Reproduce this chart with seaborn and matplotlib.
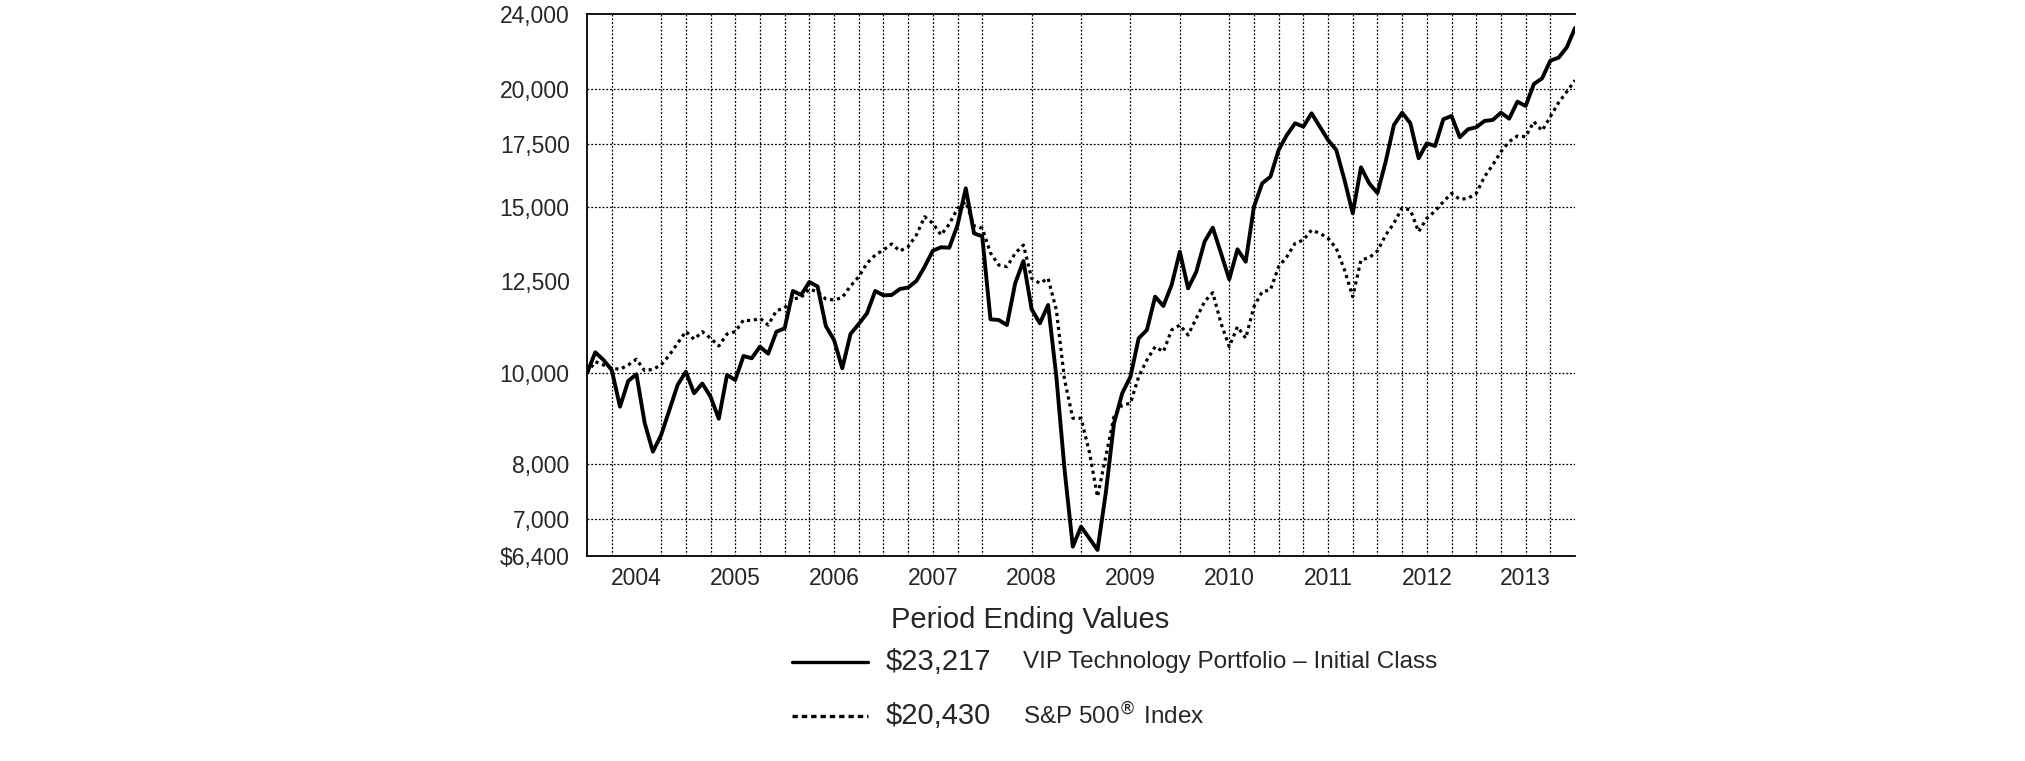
import numpy as np
import pandas as pd
import seaborn as sns
import matplotlib.pyplot as plt
from matplotlib.lines import Line2D
from matplotlib.ticker import FixedLocator, FixedFormatter, NullLocator

# monthly values of a $10,000 investment, Dec 2003 .. Dec 2013 (121 month ends)
months = np.arange(121)
vip = [10000, 10516, 10320, 10070, 9208, 9804, 9966, 8849, 8250, 8593, 9134, 9709,
       10029, 9514, 9744, 9435, 8940, 9949, 9828, 10421, 10363, 10661, 10480, 11058,
       11150, 12214, 12095, 12485, 12348, 11213, 10836, 10113, 10997, 11268, 11566, 12214,
       12085, 12095, 12273, 12318, 12516, 12960, 13476, 13589, 13575, 14349, 15693, 14060,
       13957, 11398, 11378, 11240, 12445, 13141, 11680, 11287, 11803, 9908, 7890, 6542,
       6870, 6678, 6490, 7454, 8842, 9514, 9908, 10882, 11104, 12045, 11774, 12394,
       13443, 12294, 12803, 13776, 14255, 13391, 12567, 13522, 13119, 15004, 15886, 16144,
       17232, 17876, 18394, 18242, 18848, 18242, 17659, 17232, 16014, 14764, 16518, 15886,
       15514, 16748, 18317, 18876, 18394, 16887, 17517, 17402, 18574, 18724, 17776, 18126,
       18214, 18498, 18543, 18876, 18601, 19390, 19186, 20246, 20529, 21431, 21588, 22144,
       23217]
sp500 = [10000, 10277, 10195, 10113, 10088, 10195, 10338, 10054, 10088, 10195, 10447, 10750,
         11064, 10855, 11058, 10882, 10679, 10997, 11058, 11378, 11358, 11426, 11240, 11640,
         11717, 11977, 12021, 12273, 12184, 11977, 11948, 12021, 12363, 12647, 13068, 13335,
         13499, 13699, 13466, 13609, 14002, 14641, 14408, 14002, 14384, 14945, 15187, 14313,
         14234, 13401, 13013, 12960, 13391, 13665, 12598, 12445, 12598, 11660, 9828, 8951,
         8951, 8250, 7391, 8149, 8986, 9246, 9285, 9908, 10320, 10661, 10531, 11104,
         11240, 10969, 11426, 11899, 12163, 11287, 10661, 11194, 10882, 11754, 12193, 12244,
         12960, 13280, 13722, 13833, 14173, 14060, 13890, 13555, 12856, 12045, 13174, 13247,
         13466, 14002, 14408, 14967, 14883, 14115, 14585, 14847, 15187, 15503, 15276, 15313,
         15503, 16144, 16611, 17162, 17586, 17832, 17800, 18466, 18065, 18692, 19342, 19868,
         20430]

years = ['2004', '2005', '2006', '2007', '2008', '2009', '2010', '2011', '2012', '2013']
y_ticks = [6400, 7000, 8000, 10000, 12500, 15000, 17500, 20000, 24000]
y_labels = ['$6,400', '7,000', '8,000', '10,000', '12,500', '15,000', '17,500', '20,000', '24,000']
grid_y = [7000, 8000, 10000, 15000, 17500, 20000]
grid_x = [3, 9, 12, 15, 18, 21, 24, 27, 30, 33, 36, 39, 42, 45, 48, 54, 60, 66, 72, 78,
          81, 84, 87, 90, 93, 96, 99, 102, 105, 108, 111, 114, 117]

legend_names = ['VIP Technology Portfolio \u2013 Initial Class', 'S&P 500$^{\\circledR}$ Index']
legend_values = ['$23,217', '$20,430']

sns.set_style('white')
plt.rcParams['font.family'] = ['Liberation Sans', 'DejaVu Sans']

df = pd.DataFrame({'month': months, 'vip': vip, 'sp500': sp500})

fig = plt.figure(figsize=(20.25, 7.61), dpi=100)
ax = fig.add_axes([0.2899, 0.2698, 0.4879, 0.7114])

for v in grid_y:
    ax.axhline(v, color='black', lw=0.9, ls=(0, (1.5, 1.5)), zorder=1)
for m in grid_x:
    ax.axvline(m, color='black', lw=0.9, ls=(0, (1.5, 1.5)), zorder=1)

sns.lineplot(data=df, x='month', y='sp500', ax=ax, color='black', lw=2.3,
             linestyle=(0, (1.0, 1.2)), zorder=3)
sns.lineplot(data=df, x='month', y='vip', ax=ax, color='black', lw=2.8, zorder=4)

ax.set_yscale('log')
ax.set_ylim(6400, 24000)
ax.set_xlim(0, 120)
ax.set_xlabel('')
ax.set_ylabel('')

ax.yaxis.set_major_locator(FixedLocator(y_ticks))
ax.yaxis.set_major_formatter(FixedFormatter(y_labels))
ax.yaxis.set_minor_locator(NullLocator())
ax.tick_params(axis='y', which='major', direction='out', length=8.5, width=2.4,
               labelsize=16.5, pad=4, color='black')

ax.xaxis.set_major_locator(FixedLocator(np.arange(12, 120, 12)))
ax.xaxis.set_major_formatter(FixedFormatter([''] * 9))
ax.xaxis.set_minor_locator(FixedLocator(np.arange(6, 120, 12)))
ax.xaxis.set_minor_formatter(FixedFormatter(years))
ax.tick_params(axis='x', which='major', direction='in', length=22, width=2.4, color='black')
ax.tick_params(axis='x', which='minor', length=0, labelsize=16.5, pad=8)

ax.spines['right'].set_visible(False)
for s in ['left', 'top', 'bottom']:
    ax.spines[s].set_color('black')
    ax.spines[s].set_linewidth(1.3)

# legend block below the chart
fig.text(0.440, 0.185, 'Period Ending Values', fontsize=21, ha='left', va='center')
rows = [0.130, 0.059]
styles = ['-', (0, (1.6, 1.2))]
for row, st, val, name in zip(rows, styles, legend_values, legend_names):
    fig.add_artist(Line2D([0.391, 0.4286], [row, row], transform=fig.transFigure,
                          color='black', lw=2.4, ls=st))
    fig.text(0.4375, row, val, fontsize=21, ha='left', va='center')
    fig.text(0.5052, row, name, fontsize=17.5, ha='left', va='center')

fig.savefig('out.png', dpi=100)
